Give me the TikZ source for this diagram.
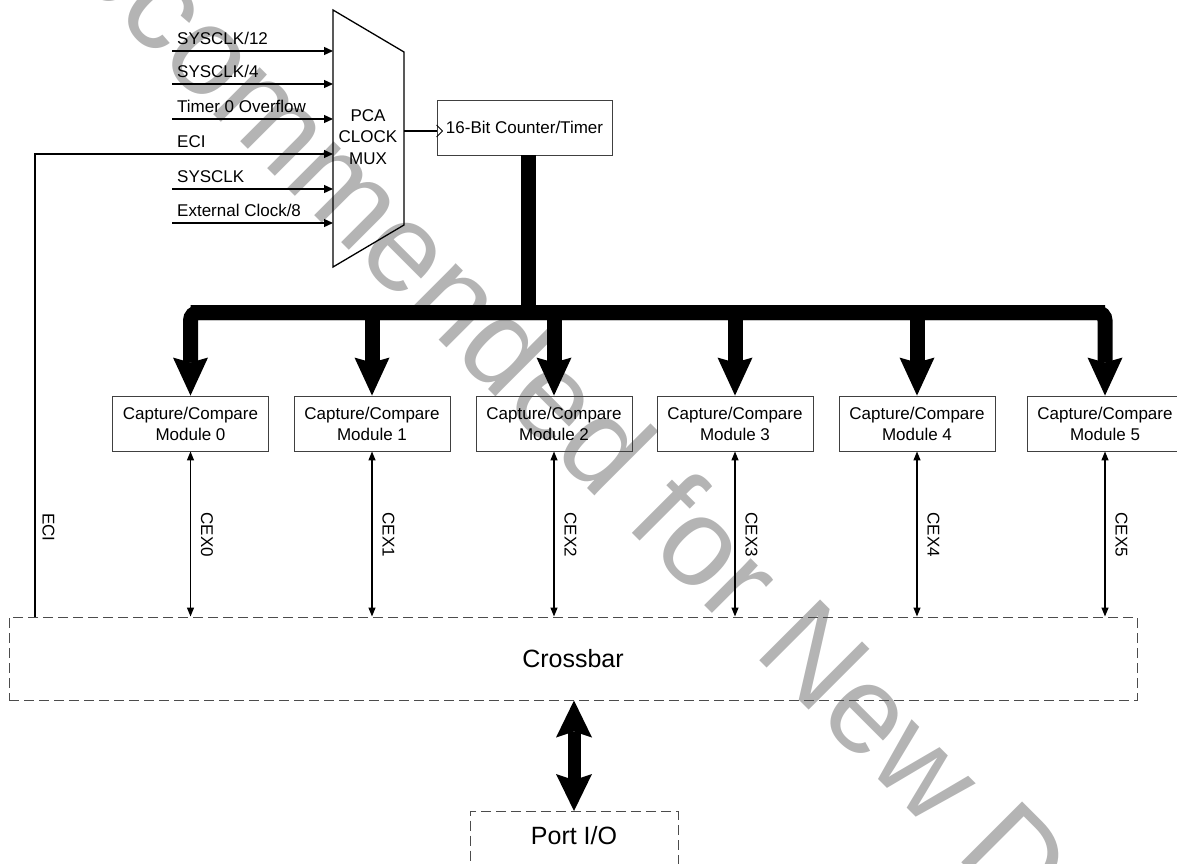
\documentclass[tikz,border=0pt]{standalone}
\usepackage{fontspec}
\setmainfont{Liberation Sans}
\usetikzlibrary{arrows.meta}
\definecolor{wmgray}{HTML}{B4B4B4}
\begin{document}
\begin{tikzpicture}[x=1pt,y=-1pt,
  txt/.style={font=\fontsize{17}{21}\selectfont},
  bigtxt/.style={font=\fontsize{25}{30}\selectfont},
  box/.style={draw=black!75, line width=0.9pt, inner sep=0pt, align=center, txt},
  modbox/.style={box, minimum width=156pt, minimum height=55pt},
  thinline/.style={line width=1.3pt},
  inarrow/.style={thinline, -{Triangle[length=9pt,width=8pt]}},
  cexarrow/.style={thinline, {Triangle[length=9pt,width=7pt]}-{Triangle[length=9pt,width=7pt]}},
  bus/.style={line width=15pt},
  bustip/.style={-{Stealth[length=38pt,width=35pt,inset=5pt,line width=0pt]}},
  dashbox/.style={draw=black!70, line width=1pt, dash pattern=on 10pt off 5pt, inner sep=0pt},
  lbl/.style={txt, anchor=base west, inner sep=0pt},
  vlbl/.style={txt, rotate=-90, anchor=west, inner sep=0pt},
]
\useasboundingbox (0,0) rectangle (1177,864);
\clip (0,0) rectangle (1177,864);

% watermark
\node[rotate=-45, anchor=base west, inner sep=0pt, text=wmgray,
      font=\fontsize{125}{140}\selectfont] (wm) at (-161,-260) {Not Recommended for New Designs};

% clock mux
\draw[thinline] (333,10) -- (404,52) -- (404,225) -- (333,267) -- cycle;
\node[txt, align=center, inner sep=0pt, font=\fontsize{17}{21.5}\selectfont] (muxt) at (368,137) {PCA\\CLOCK\\MUX};
\foreach \n/\y in {1/51,2/84,3/119,4/154,5/189,6/223} {
  \coordinate (in\n) at (333,\y);
}
\foreach \n/\y in {1/51,2/84,3/119,5/189,6/223} {
  \coordinate (src\n) at (172,\y);
  \draw[inarrow] (src\n) -- (in\n);
}
\node[lbl] (l1) at (177,44.5) {SYSCLK/12};
\node[lbl] (l2) at (177,77.5) {SYSCLK/4};
\node[lbl] (l3) at (177,112.5) {Timer 0 Overflow};
\node[lbl] (l4) at (177,147.5) {ECI};
\node[lbl] (l5) at (177,182.5) {SYSCLK};
\node[lbl] (l6) at (177,216.5) {External Clock/8};

% counter
\node[box, minimum width=175pt, minimum height=55pt] (ctr) at (524.5,127.5) {16-Bit Counter/Timer};
\coordinate (muxout) at (404,131);
\draw[thinline] (muxout) -- (muxout -| ctr.west);
\draw[line width=0.8pt] (muxout -| ctr.west) ++(0,-6) -- ++(6,6) -- ++(-6,6);

% modules
\foreach \i/\x in {0/190.5,1/372,2/554,3/735,4/917,5/1105} {
  \node[modbox] (m\i) at (\x,423.5) {Capture/Compare\\Module \i};
}

% bus
\coordinate (busjoin) at (528,312.5);
\draw[bus] (ctr.south -| busjoin) -- (busjoin);
\draw[bus, bustip, rounded corners=8pt] (m0.north |- busjoin) -- (m5.north |- busjoin) -- (m5.north);
\draw[bus, bustip, rounded corners=8pt] (m5.north |- busjoin) -- (m0.north |- busjoin) -- (m0.north);
\foreach \i in {1,2,3,4} {
  \draw[bus, bustip] (m\i.north |- busjoin) -- (m\i.north);
}

% crossbar
\node[dashbox, minimum width=1128pt, minimum height=83pt, bigtxt] (xbar) at (573,658.5) {Crossbar};

% ECI path
\coordinate (ecib) at (35,617);
\draw[inarrow] (ecib) |- (in4);
\node[vlbl] (ecil) at (48.5,513) {ECI};

% CEX arrows
\foreach \i in {0,...,5} {
  \draw[cexarrow] (m\i.south) -- (m\i.south |- xbar.north);
  \path (m\i.south) ++(16.5,61) node[vlbl] (cex\i) {CEX\i};
}

% port
\node[dashbox, minimum width=208pt, minimum height=70pt, anchor=north, bigtxt,
      text height=18pt, text depth=22pt] (port) at (574,811) {Port I/O};
\draw[line width=13pt, {Stealth[length=37pt,width=36pt,inset=6pt,line width=0pt]}-{Stealth[length=37pt,width=36pt,inset=6pt,line width=0pt]}]
  (xbar.south -| port.north) -- (port.north);
\end{tikzpicture}
\end{document}
